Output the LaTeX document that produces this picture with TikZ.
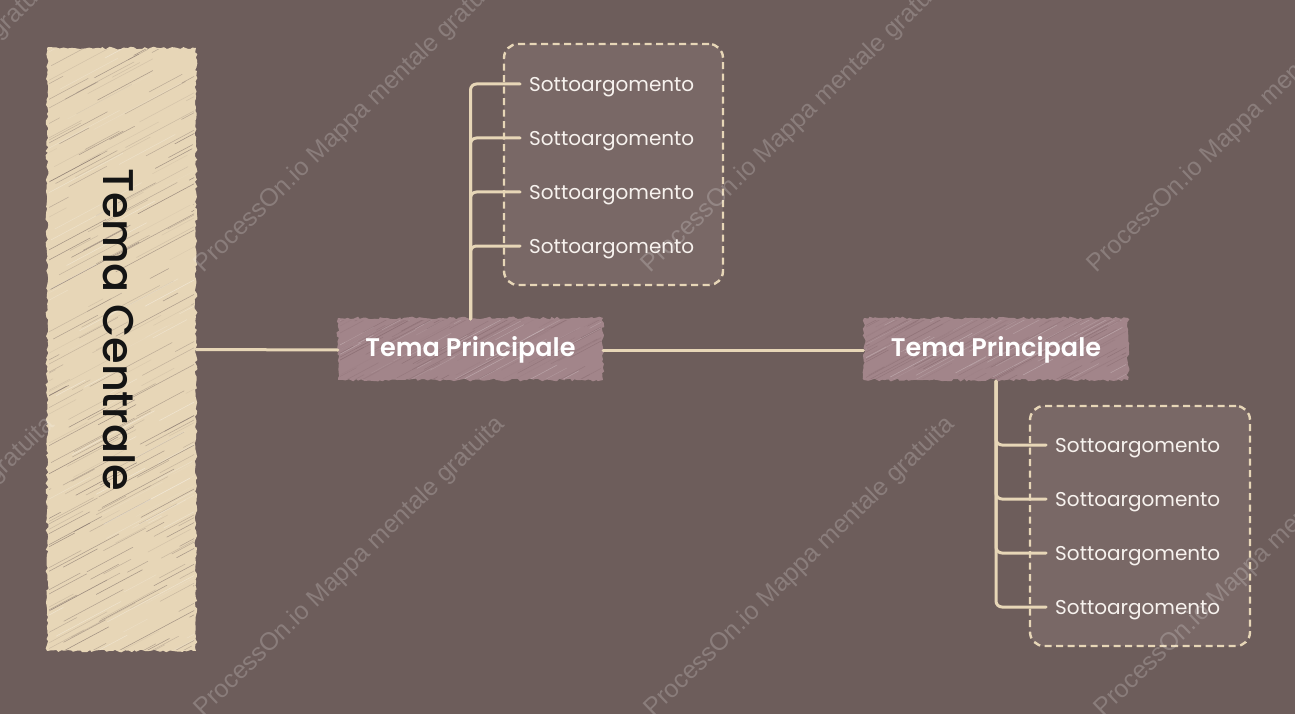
\documentclass[tikz,border=0pt]{standalone}
\usepackage{fontspec}
\setmainfont{Poppins}
\newfontfamily\psemi{Poppins}[UprightFont={* SemiBold}]
\newfontfamily\pmed{Poppins}[UprightFont={* Medium}]
\newfontfamily\wmfont{Liberation Sans}
\usetikzlibrary{decorations.pathmorphing}
\definecolor{bgc}{HTML}{6D5D5B}
\definecolor{boxc}{HTML}{796866}
\definecolor{cream}{HTML}{E7D6B7}
\definecolor{pinkc}{HTML}{A2858A}
\definecolor{pinkd}{HTML}{86696E}
\definecolor{txtw}{HTML}{F7F2EE}
\pgfdeclarelayer{back}\pgfdeclarelayer{fore}\pgfsetlayers{back,main,fore}
% #1 x, #2 y, #3 w, #4 h, #5 count, #6 colour, #7 max opacity
\newcommand\hatchbox[7]{%
  \begin{scope}
  \clip (#1,#2) rectangle ++(#3,#4);
  \foreach \k in {1,...,#5}{
    \pgfmathsetmacro\hx{#1-60+(#3+60)*rnd}
    \pgfmathsetmacro\hy{#2+(#4+30)*rnd}
    \pgfmathsetmacro\hl{15+90*rnd}
    \pgfmathsetmacro\ho{0.08+#7*rnd}
    \draw[#6, line width=0.55pt, opacity=\ho, line cap=round] (\hx,\hy) -- ++(0.88*\hl,-0.47*\hl);
  }
  \end{scope}}
\begin{document}
\begin{tikzpicture}[x=1pt,y=-1pt,
  conn/.style={draw=cream, line width=3pt, line cap=round},
  subt/.style={font=\fontsize{20}{24}\selectfont, text=txtw, inner xsep=9pt, inner ysep=0pt, text height=15pt, text depth=0pt, anchor=west},
  ptext/.style={font=\psemi\fontsize{25.5}{30}\selectfont, text=white, minimum width=265pt, minimum height=62pt, inner sep=0pt},
  ctext/.style={font=\pmed\fontsize{43}{50}\selectfont, text=black!92, rotate=-90, inner sep=0pt},
  dashbox/.style={draw=cream, fill=boxc, line width=2.4pt, dash pattern=on 7pt off 4.5pt, rounded corners=14pt},
  rough/.style={decorate, decoration={random steps, segment length=3pt, amplitude=1.4pt}},
  wm/.style={font=\wmfont\fontsize{25}{30}\selectfont, text=white, text opacity=0.2, rotate=44, inner sep=0pt}
]
\pgfmathsetseed{7}
\useasboundingbox (0,0) rectangle (1295,714);

% ---------- nodes ----------
\node[minimum width=149pt, minimum height=603pt, inner sep=0pt] (cb) at (121.5,349.5) {};
\node[ctext] (ct) at (119,330) {Tema Centrale};
\node[ptext] (p1) at (470.5,350) {Tema Principale};
\node[ptext] (p2) at (996,350) {Tema Principale};

\node[subt] (a1) at (520,84) {Sottoargomento};
\node[subt] (a2) at (520,138) {Sottoargomento};
\node[subt] (a3) at (520,192) {Sottoargomento};
\node[subt] (a4) at (520,246) {Sottoargomento};

\node[subt] (b1) at (1046,445) {Sottoargomento};
\node[subt] (b2) at (1046,499) {Sottoargomento};
\node[subt] (b3) at (1046,553) {Sottoargomento};
\node[subt] (b4) at (1046,607) {Sottoargomento};

% ---------- connectors ----------
\draw[conn] (cb.east) -- (p1.west);
\draw[conn] (p1.east) -- (p2.west);
\foreach \s in {a1,a2,a3,a4}{
  \draw[conn, rounded corners=6pt] (p1.north) |- (\s.west);
}
\foreach \s in {b1,b2,b3,b4}{
  \draw[conn, rounded corners=6pt] (p2.south) |- (\s.west);
}

% ---------- background shapes ----------
\begin{pgfonlayer}{back}
  \fill[bgc] (0,0) rectangle (1295,714);
  \node[dashbox, minimum width=219pt, minimum height=241pt] (g1) at (613.5,164.5) {};
  \node[dashbox, minimum width=220pt, minimum height=240pt] (g2) at (1140,526) {};
  % central box
  \fill[cream, rough] (47,48) rectangle (196,651);
  \hatchbox{49}{50}{145}{599}{220}{bgc}{0.5}
  \hatchbox{49}{50}{145}{599}{60}{white}{0.3}
  % principal boxes
  \fill[pinkc, rough] (338,318) rectangle (603,380);
  \hatchbox{340}{320}{261}{58}{90}{pinkd}{0.6}
  \hatchbox{340}{320}{261}{58}{40}{white}{0.2}
  \fill[pinkc, rough] (864,318) rectangle (1128,380);
  \hatchbox{866}{320}{260}{58}{90}{pinkd}{0.6}
  \hatchbox{866}{320}{260}{58}{40}{white}{0.2}
\end{pgfonlayer}

% ---------- watermark ----------
\begin{pgfonlayer}{fore}
  \foreach \wx/\wy [count=\i] in {-97/123, 350/123, 797/123, 1243/123, -100/567, 350/567, 800/567, 1250/567}{
    \node[wm] (w\i) at (\wx,\wy) {ProcessOn.io Mappa mentale gratuita};
  }
\end{pgfonlayer}
\end{tikzpicture}
\end{document}
